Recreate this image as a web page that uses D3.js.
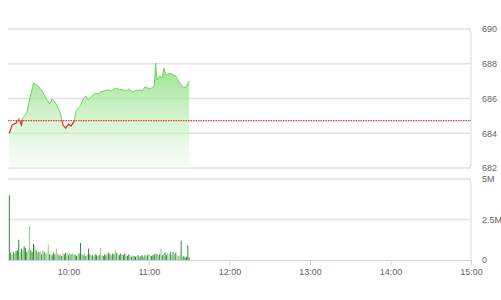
<!DOCTYPE html>
<html>
<head>
<meta charset="utf-8">
<script src="https://cdn.jsdelivr.net/npm/d3@7"></script>
<style>
  body { margin: 0; background: #fff; }
  svg { display: block; font-family: Roboto, "Noto Sans", sans-serif; }
  .lbl text { fill: #666; font-size: 9px; }
</style>
</head>
<body>
<div id="chart"></div>
<script>
// price (intraday, minutes as "h:mm")
const priceTimes = ["9:16","9:18","9:21","9:23","9:25","9:26","9:29","9:31","9:34","9:36","9:38","9:41","9:44","9:46","9:48","9:50","9:52","9:54","9:56","9:58","10:00","10:02","10:04","10:06","10:09","10:11","10:13","10:15","10:17","10:20","10:22","10:24","10:27","10:29","10:32","10:35","10:38","10:41","10:43","10:45","10:48","10:50","10:53","10:55","10:57","11:01","11:03","11:04","11:05","11:06","11:08","11:10","11:11","11:13","11:15","11:17","11:20","11:23","11:26","11:28","11:30"];
const priceValues = [684.0,684.47,684.59,684.88,684.47,684.88,685.17,685.91,686.89,686.8,686.66,686.37,685.91,685.68,685.97,685.8,685.51,685.17,684.47,684.3,684.53,684.42,684.65,685.34,685.57,685.97,686.14,685.91,686.09,686.32,686.25,686.37,686.45,686.49,686.43,686.6,686.52,686.49,686.42,686.55,686.37,686.45,686.49,686.44,686.66,686.55,686.66,686.7,688.04,687.06,687.29,687.18,687.76,687.35,687.45,687.41,687.29,686.89,686.6,686.72,687.01];
const refPrice = 684.73;

// volume per minute from 9:16, in millions
const volStart = "9:16";
const volValues = [
  4.0,0.45,0.3,0.5,0.4,0.55,0.6,1.25,0.5,0.7,0.6,0.85,0.75,0.5,0.65,2.1,0.6,0.5,1.0,
  0.85,0.6,0.45,0.5,0.55,0.35,0.6,0.5,0.4,0.45,0.95,0.35,0.4,0.3,0.45,0.35,0.7,
  0.4,0.3,0.35,0.25,0.4,0.35,0.45,0.4,0.3,0.45,0.35,0.4,0.3,0.35,0.25,0.3,0.4,1.05,
  0.35,0.3,0.4,0.25,0.35,0.7,0.35,0.25,0.3,0.2,0.35,0.3,0.25,0.3,0.75,
  0.3,0.25,0.35,0.3,0.4,0.45,0.35,0.3,0.4,0.35,0.6,
  0.45,0.35,0.3,0.4,0.35,0.3,0.4,0.3,0.25,0.35,0.3,0.2,0.3,0.25,0.2,0.25,0.3,0.2,
  0.25,0.3,0.2,0.3,0.25,0.3,0.35,0.3,0.25,0.3,0.35,0.4,0.35,0.3,0.35,0.7,
  0.3,0.35,0.45,0.3,0.4,0.35,0.5,0.3,0.5,0.35,0.45,0.3,0.25,0.3,1.2,0.2,0.25,0.15,0.2,0.9,0.15
];
// d = dark bar, l = light bar
const volShade = "ddldldddldldddlldddldldldldllldldddlldldlddldldllddlddldldlddldlddldlldddlddlddldlddlddlddldlddldlddldldlldddldldldlddlldldldllldl";

const priceTicks = [682, 684, 686, 688, 690];
const volTicks = [0, 2.5, 5];
const volTickLabels = ["0", "2.5M", "5M"];
const timeTicks = ["10:00", "11:00", "12:00", "13:00", "14:00", "15:00"];
const sessionStart = "9:15";
const sessionEnd = "15:00";

const toMin = (s) => { const [h, m] = s.split(":").map(Number); return h * 60 + m; };

const width = 501, height = 300;
const left = 8, right = 471;
const pTop = 29, pBottom = 168;
const vTop = 179, vBottom = 260;

const svg = d3.select("#chart").append("svg").attr("width", width).attr("height", height);

const x = d3.scaleLinear().domain([toMin(sessionStart), toMin(sessionEnd)]).range([left, right]);
const y = d3.scaleLinear().domain([682, 690]).range([pBottom, pTop]);
const yv = d3.scaleLinear().domain([0, 5]).range([vBottom, vTop]);

const prices = priceTimes.map((t, i) => ({ t: toMin(t), v: priceValues[i] }));

// gradient for area
const defs = svg.append("defs");
const grad = defs.append("linearGradient").attr("id", "areaGrad")
  .attr("gradientUnits", "userSpaceOnUse")
  .attr("x1", 0).attr("y1", y(688)).attr("x2", 0).attr("y2", pBottom);
grad.append("stop").attr("offset", "0%").attr("stop-color", "#86e07a").attr("stop-opacity", 0.9);
grad.append("stop").attr("offset", "100%").attr("stop-color", "#d6f5d0").attr("stop-opacity", 0.2);

const yRef = y(refPrice);
defs.append("clipPath").attr("id", "clipUp").append("rect")
  .attr("x", 0).attr("y", 0).attr("width", width).attr("height", yRef);
defs.append("clipPath").attr("id", "clipDown").append("rect")
  .attr("x", 0).attr("y", yRef).attr("width", width).attr("height", height - yRef);

// price grid
svg.append("g").selectAll("line").data(priceTicks).join("line")
  .attr("x1", left).attr("x2", right)
  .attr("y1", (d) => y(d)).attr("y2", (d) => y(d))
  .attr("stroke", "#e2e2e2").attr("stroke-width", 1.3);

svg.append("path")
  .attr("d", `M${right - 4},${pTop} Q${right},${pTop} ${right},${pTop + 4} L${right},${pBottom - 4} Q${right},${pBottom} ${right - 4},${pBottom}`)
  .attr("fill", "none").attr("stroke", "#dde3ea").attr("stroke-width", 1.2);

// area
const area = d3.area().x((d) => x(d.t)).y0(y(682) - 2).y1((d) => y(d.v));
svg.append("path").datum(prices).attr("d", area).attr("fill", "url(#areaGrad)");

// line, green above reference, red below
const line = d3.line().x((d) => x(d.t)).y((d) => y(d.v));
svg.append("path").datum(prices).attr("d", line).attr("fill", "none")
  .attr("stroke", "#72d164").attr("stroke-width", 1).attr("clip-path", "url(#clipUp)");
svg.append("path").datum(prices).attr("d", line).attr("fill", "none")
  .attr("stroke", "#e0262b").attr("stroke-width", 1.2).attr("clip-path", "url(#clipDown)");

// reference line
svg.append("line")
  .attr("x1", left).attr("x2", right).attr("y1", yRef).attr("y2", yRef)
  .attr("stroke", "#e53935").attr("stroke-width", 1.2).attr("stroke-dasharray", "1.5,1");

// price labels
svg.append("g").attr("class", "lbl").attr("transform", `translate(${right + 7},0)`)
  .call(d3.axisRight(y).tickValues(priceTicks).tickSize(0).tickPadding(4).tickFormat(d3.format("d")))
  .call((g) => g.select(".domain").remove());

// volume grid
svg.append("g").selectAll("line").data(volTicks.slice(1)).join("line")
  .attr("x1", left).attr("x2", right)
  .attr("y1", (d) => yv(d)).attr("y2", (d) => yv(d))
  .attr("stroke", "#e2e2e2").attr("stroke-width", 1.3);

svg.append("path")
  .attr("d", `M${right - 4},${vTop} Q${right},${vTop} ${right},${vTop + 4} L${right},${vBottom}`)
  .attr("fill", "none").attr("stroke", "#dde3ea").attr("stroke-width", 1.2);

// volume bars
const vStart = toMin(volStart);
svg.append("g").selectAll("rect").data(volValues).join("rect")
  .attr("x", (d, i) => x(vStart + i) - 0.5)
  .attr("width", 1)
  .attr("y", (d) => yv(d))
  .attr("height", (d) => yv(0) - yv(d))
  .attr("fill", (d, i) => volShade[i] === "l" ? "#8fcb8a" : "#2f8a2f");

svg.append("g").attr("class", "lbl").attr("transform", `translate(${right + 7},0)`)
  .call(d3.axisRight(yv).tickValues(volTicks).tickSize(0).tickPadding(4)
    .tickFormat((d, i) => volTickLabels[i]))
  .call((g) => g.select(".domain").remove());

// time axis
const xAxis = svg.append("g").attr("class", "lbl").attr("transform", `translate(0,${vBottom})`)
  .call(d3.axisBottom(x).tickValues(timeTicks.map(toMin)).tickSize(5).tickPadding(4)
    .tickFormat((d, i) => timeTicks[i]));
xAxis.select(".domain").attr("d", `M${left},0.5H${right}`).attr("stroke", "#c9d6e6");
xAxis.selectAll(".tick line").attr("stroke", "#c9d6e6");
</script>
</body>
</html>
